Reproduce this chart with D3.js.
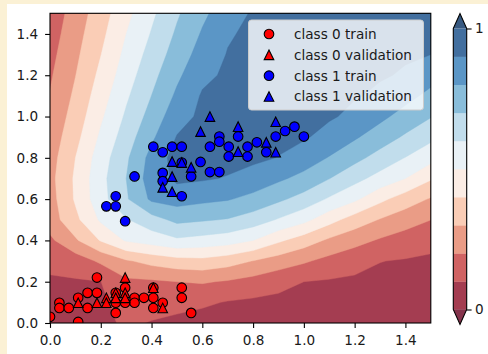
<!DOCTYPE html>
<html>
<head>
<meta charset="utf-8">
<script src="https://cdn.jsdelivr.net/npm/d3@7"></script>
<style>
  html, body { margin: 0; padding: 0; background: #fbf1d5; }
  svg { display: block; }
  text { font-family: "DejaVu Sans", sans-serif; fill: #1a1a1a; }
</style>
</head>
<body>
<svg id="chart" width="488" height="354"></svg>
<script>
// grid the probability field was sampled on
const gridX = [0, 0.1, 0.2, 0.3, 0.4, 0.5, 0.6, 0.7, 0.8, 0.9, 1.0, 1.1, 1.2, 1.3, 1.4, 1.5];
const gridY = [0, 0.1, 0.2, 0.3, 0.4, 0.5, 0.6, 0.7, 0.8, 0.9, 1.0, 1.1, 1.2, 1.3, 1.4, 1.5];

// predicted probability of class 1, one row per gridY value (bottom row first)
const probGrid = [
  [0.05, 0.06, 0.075, 0.115, 0.095, 0.075, 0.06, 0.05, 0.045, 0.04, 0.038, 0.036, 0.034, 0.032, 0.03, 0.03],
  [0.06, 0.075, 0.08, 0.148, 0.135, 0.133, 0.116, 0.094, 0.083, 0.075, 0.069, 0.064, 0.059, 0.055, 0.051, 0.049],
  [0.085, 0.091, 0.099, 0.181, 0.186, 0.2, 0.209, 0.191, 0.165, 0.132, 0.1, 0.091, 0.084, 0.078, 0.072, 0.068],
  [0.13, 0.147, 0.217, 0.288, 0.332, 0.362, 0.372, 0.344, 0.297, 0.253, 0.213, 0.169, 0.134, 0.102, 0.093, 0.087],
  [0.18, 0.286, 0.407, 0.51, 0.545, 0.583, 0.565, 0.544, 0.5, 0.417, 0.35, 0.283, 0.234, 0.189, 0.155, 0.124],
  [0.25, 0.375, 0.515, 0.592, 0.66, 0.725, 0.71, 0.694, 0.653, 0.591, 0.529, 0.436, 0.355, 0.294, 0.244, 0.201],
  [0.26, 0.412, 0.563, 0.688, 0.818, 0.842, 0.823, 0.807, 0.772, 0.719, 0.663, 0.587, 0.519, 0.425, 0.351, 0.291],
  [0.27, 0.415, 0.569, 0.7, 0.85, 0.92, 0.91, 0.894, 0.861, 0.817, 0.77, 0.702, 0.631, 0.564, 0.5, 0.41],
  [0.258, 0.4, 0.551, 0.683, 0.834, 0.94, 0.95, 0.93, 0.92, 0.897, 0.854, 0.794, 0.729, 0.663, 0.597, 0.535],
  [0.241, 0.369, 0.517, 0.649, 0.782, 0.905, 0.94, 0.95, 0.94, 0.925, 0.91, 0.868, 0.812, 0.749, 0.686, 0.623],
  [0.223, 0.342, 0.484, 0.615, 0.738, 0.861, 0.92, 0.94, 0.95, 0.94, 0.93, 0.91, 0.881, 0.824, 0.762, 0.705],
  [0.205, 0.319, 0.454, 0.584, 0.701, 0.818, 0.91, 0.93, 0.945, 0.945, 0.94, 0.925, 0.905, 0.889, 0.831, 0.773],
  [0.188, 0.298, 0.425, 0.553, 0.669, 0.78, 0.878, 0.915, 0.935, 0.94, 0.945, 0.935, 0.92, 0.905, 0.895, 0.838],
  [0.171, 0.279, 0.398, 0.526, 0.637, 0.745, 0.841, 0.905, 0.93, 0.935, 0.94, 0.94, 0.93, 0.915, 0.905, 0.9],
  [0.153, 0.262, 0.374, 0.5, 0.607, 0.715, 0.81, 0.89, 0.92, 0.93, 0.935, 0.935, 0.93, 0.925, 0.915, 0.91],
  [0.136, 0.245, 0.353, 0.472, 0.58, 0.687, 0.779, 0.857, 0.91, 0.92, 0.93, 0.93, 0.93, 0.93, 0.92, 0.915]
];

const levels = [0, 0.1, 0.2, 0.3, 0.4, 0.5, 0.6, 0.7, 0.8, 0.9, 1.0];

const class0Train = [
  [0.0, 0.03], [0.037, 0.098], [0.037, 0.073], [0.074, 0.073], [0.111, 0.122], [0.111, 0.005],
  [0.148, 0.146], [0.148, 0.073], [0.185, 0.22], [0.185, 0.146], [0.259, 0.146], [0.259, 0.098],
  [0.259, 0.049], [0.296, 0.171], [0.296, 0.098], [0.333, 0.122], [0.333, 0.098], [0.37, 0.122],
  [0.407, 0.171], [0.407, 0.122], [0.407, 0.073], [0.444, 0.098], [0.519, 0.171], [0.519, 0.122],
  [0.556, 0.049]
];
const class0Val = [
  [0.111, 0.098], [0.185, 0.098], [0.222, 0.122], [0.222, 0.098], [0.259, 0.146], [0.259, 0.122],
  [0.296, 0.22], [0.296, 0.146], [0.296, 0.122], [0.407, 0.171], [0.444, 0.073]
];
const class1Train = [
  [0.407, 0.854], [0.444, 0.827], [0.481, 0.854], [0.519, 0.854], [0.333, 0.71], [0.259, 0.614],
  [0.222, 0.565], [0.259, 0.565], [0.296, 0.493], [0.444, 0.727], [0.444, 0.687], [0.519, 0.614],
  [0.556, 0.71], [0.519, 0.777], [0.593, 0.78], [0.63, 0.854], [0.667, 0.903], [0.667, 0.878],
  [0.63, 0.731], [0.667, 0.731], [0.704, 0.854], [0.704, 0.806], [0.741, 0.903], [0.778, 0.854],
  [0.778, 0.806], [0.815, 0.875], [0.852, 0.827], [0.889, 0.903], [0.926, 0.93], [0.963, 0.951],
  [1.0, 0.903]
];
const class1Val = [
  [0.63, 1.0], [0.593, 0.927], [0.741, 0.951], [0.889, 0.975], [0.481, 0.782], [0.481, 0.709],
  [0.519, 0.777], [0.556, 0.754], [0.444, 0.657], [0.481, 0.636], [0.741, 0.83], [0.852, 0.875],
  [0.889, 0.827]
];

const xTicks = [0, 0.2, 0.4, 0.6, 0.8, 1.0, 1.2, 1.4];
const yTicks = [0, 0.2, 0.4, 0.6, 0.8, 1.0, 1.2, 1.4];
const cbTicks = [0, 1];
const legendLabels = ['class 0 train', 'class 0 validation', 'class 1 train', 'class 1 validation'];

const svg = d3.select('#chart');
const fontSize = 13.6;

// white figure area (notebook output cell shows cream edge)
svg.append('rect').attr('x', 7).attr('y', 4).attr('width', 481).attr('height', 350).attr('fill', '#ffffff');

const x = d3.scaleLinear().domain([0, 1.5]).range([50, 430.8]);
const y = d3.scaleLinear().domain([0, 1.5]).range([323, 13.3]);

// matplotlib RdBu, linear between the 11 anchor colours, drawn with alpha .8 on white
const rdbu = d3.scaleLinear()
  .domain(d3.range(11).map(i => i / 10))
  .range(['#67001f', '#b2182b', '#d6604d', '#f4a582', '#fddbc7', '#f7f7f7',
          '#d1e5f0', '#92c5de', '#4393c3', '#2166ac', '#053061'])
  .interpolate(d3.interpolateRgb);
const withAlpha = c => d3.interpolateRgb('#ffffff', c)(0.8);
const bandColor = k => withAlpha(rdbu((levels[k] + levels[k + 1]) / 2));

svg.append('clipPath').attr('id', 'plotClip')
  .append('rect')
  .attr('x', x(0)).attr('y', y(1.5))
  .attr('width', x(1.5) - x(0)).attr('height', y(0) - y(1.5));

// filled contours
const gx = d3.scaleLinear().domain([0, gridX.length - 1]).range([gridX[0], gridX[gridX.length - 1]]);
const gy = d3.scaleLinear().domain([0, gridY.length - 1]).range([gridY[0], gridY[gridY.length - 1]]);
const contours = d3.contours()
  .size([gridX.length, gridY.length])
  .thresholds(levels.slice(0, -1))(probGrid.flat());
const path = d3.geoPath(d3.geoTransform({
  point(px, py) { this.stream.point(x(gx(px - 0.5)), y(gy(py - 0.5))); }
}));

const plot = svg.append('g').attr('clip-path', 'url(#plotClip)');
plot.selectAll('path.band')
  .data(contours)
  .join('path')
  .attr('class', 'band')
  .attr('d', path)
  .attr('fill', (d, i) => bandColor(i))
  .attr('stroke', (d, i) => bandColor(i))
  .attr('stroke-width', 0.4);

// scatter markers
const r = 4.8;
const triPath = `M0,${-r}L${r},${r}L${-r},${r}Z`;
function drawCircles(data, color) {
  plot.append('g').selectAll('circle')
    .data(data)
    .join('circle')
    .attr('cx', d => x(d[0]))
    .attr('cy', d => y(d[1]))
    .attr('r', r)
    .attr('fill', color)
    .attr('stroke', '#000')
    .attr('stroke-width', 1.1);
}
function drawTriangles(data, color) {
  plot.append('g').selectAll('path')
    .data(data)
    .join('path')
    .attr('transform', d => `translate(${x(d[0])},${y(d[1])})`)
    .attr('d', triPath)
    .attr('fill', color)
    .attr('stroke', '#000')
    .attr('stroke-width', 1.1);
}
drawCircles(class0Train, '#ff0000');
drawTriangles(class0Val, '#ff0000');
drawCircles(class1Train, '#0000ff');
drawTriangles(class1Val, '#0000ff');

// axes
const xAxis = svg.append('g')
  .attr('transform', `translate(0,${y(0)})`)
  .call(d3.axisBottom(x).tickValues(xTicks).tickFormat(d3.format('.1f')).tickSize(4.9).tickPadding(7.2));
const yAxis = svg.append('g')
  .attr('transform', `translate(${x(0)},0)`)
  .call(d3.axisLeft(y).tickValues(yTicks).tickFormat(d3.format('.1f')).tickSize(4.9).tickPadding(7));
[xAxis, yAxis].forEach(a => {
  a.select('.domain').remove();
  a.selectAll('line').attr('stroke', '#000').attr('stroke-width', 1.1);
  a.selectAll('text').attr('font-size', fontSize).attr('font-family', '"DejaVu Sans", sans-serif').attr('fill', '#1a1a1a');
});

svg.append('rect')
  .attr('x', x(0)).attr('y', y(1.5))
  .attr('width', x(1.5) - x(0)).attr('height', y(0) - y(1.5))
  .attr('fill', 'none').attr('stroke', '#000').attr('stroke-width', 1.1);

// legend
const legend = svg.append('g');
legend.append('rect')
  .attr('x', 248.5).attr('y', 20).attr('width', 175).attr('height', 90).attr('rx', 3)
  .attr('fill', '#ffffff').attr('fill-opacity', 0.8)
  .attr('stroke', '#cccccc').attr('stroke-width', 1);
const legendMarks = [
  { color: '#ff0000', shape: 'circle' }, { color: '#ff0000', shape: 'triangle' },
  { color: '#0000ff', shape: 'circle' }, { color: '#0000ff', shape: 'triangle' }
];
const legendRow = d3.scalePoint().domain(legendLabels).range([34, 96.5]);
legendLabels.forEach((lab, i) => {
  const ly = legendRow(lab);
  const m = legendMarks[i];
  if (m.shape === 'circle') {
    legend.append('circle').attr('cx', 269).attr('cy', ly).attr('r', r)
      .attr('fill', m.color).attr('stroke', '#000').attr('stroke-width', 1.1);
  } else {
    legend.append('path').attr('transform', `translate(269,${ly})`).attr('d', triPath)
      .attr('fill', m.color).attr('stroke', '#000').attr('stroke-width', 1.1);
  }
  legend.append('text').attr('x', 294).attr('y', ly).attr('dy', '0.36em')
    .attr('font-size', fontSize).text(lab);
});

// colorbar with extensions at both ends
const cbX0 = 453.3, cbX1 = 466.7, ext = 15;
const cb = d3.scaleLinear().domain([levels[0], levels[levels.length - 1]]).range([309.5, 28.5]);
const cbG = svg.append('g');
cbG.selectAll('rect')
  .data(d3.range(levels.length - 1))
  .join('rect')
  .attr('x', cbX0).attr('width', cbX1 - cbX0)
  .attr('y', k => cb(levels[k + 1])).attr('height', k => cb(levels[k]) - cb(levels[k + 1]) + 0.3)
  .attr('fill', k => bandColor(k));
const cbMid = (cbX0 + cbX1) / 2;
cbG.append('path')
  .attr('d', `M${cbX0},${cb(1)}L${cbMid},${cb(1) - ext}L${cbX1},${cb(1)}Z`)
  .attr('fill', withAlpha(rdbu(1)));
cbG.append('path')
  .attr('d', `M${cbX0},${cb(0)}L${cbMid},${cb(0) + ext}L${cbX1},${cb(0)}Z`)
  .attr('fill', withAlpha(rdbu(0)));
cbG.append('path')
  .attr('d', `M${cbX0},${cb(1)}L${cbMid},${cb(1) - ext}L${cbX1},${cb(1)}L${cbX1},${cb(0)}L${cbMid},${cb(0) + ext}L${cbX0},${cb(0)}Z`)
  .attr('fill', 'none').attr('stroke', '#000').attr('stroke-width', 1.1);
const cbAxis = svg.append('g')
  .attr('transform', `translate(${cbX1},0)`)
  .call(d3.axisRight(cb).tickValues(cbTicks).tickFormat(d3.format('d')).tickSize(4.9).tickPadding(3.5));
cbAxis.select('.domain').remove();
cbAxis.selectAll('line').attr('stroke', '#000').attr('stroke-width', 1.1);
cbAxis.selectAll('text').attr('font-size', fontSize).attr('font-family', '"DejaVu Sans", sans-serif').attr('fill', '#1a1a1a');
</script>
</body>
</html>
